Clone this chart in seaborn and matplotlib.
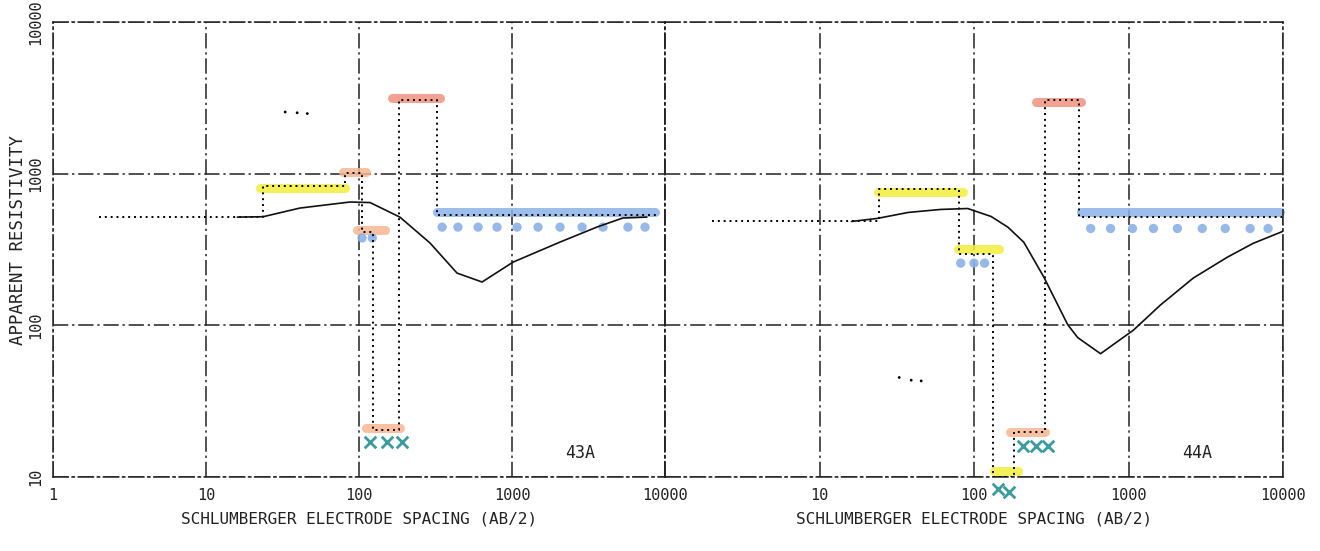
import matplotlib
matplotlib.use("Agg")
import matplotlib.pyplot as plt
import seaborn as sns

# --- sounding 43A ---
curve_43_x = [16, 23.6, 41, 87, 118, 185, 291, 437, 637, 1015, 2060, 3600, 5300, 7600]
curve_43_rho = [517, 520, 593, 650, 645, 517, 349, 221, 193, 261, 354, 445, 510, 517]
model_43_x = [2.0, 23.6, 81, 105, 123, 182, 323, 8870]
model_43_rho = [517, 828, 1009, 412, 20.4, 3055, 533, 533]
band_43_x0 = [22.4, 78.6, 97, 111, 165, 323]
band_43_x1 = [81, 111, 148, 185, 339, 8600]
band_43_rho = [800, 1024, 425, 21, 3150, 558]
band_43_kind = ["yellow", "orange", "orange", "orange", "red", "blue"]
blobs_43_x = [104.6, 122, 349, 443, 600, 798, 1079, 1479, 2060, 2869, 3933, 5723, 7400]
blobs_43_rho = [377, 377, 444, 444, 444, 444, 444, 444, 444, 444, 444, 444, 444]
cross_43_x = [118, 152, 190]
cross_43_rho = [17, 17, 17]
specks_43_x = [32.9, 39.4, 45.9]
specks_43_rho = [2550, 2520, 2490]

# --- sounding 44A ---
curve_44_x = [16.1, 23.7, 37.5, 61, 91, 129, 166, 210, 283, 404, 469, 659, 1076, 1607,
              2625, 4350, 6400, 10000]
curve_44_rho = [484, 507, 555, 581, 589, 522, 443, 353, 208, 101, 83, 65, 93, 136,
                205, 281, 347, 417]
model_44_x = [2.0, 24.4, 80, 133, 181, 287, 476, 9800]
model_44_rho = [484, 798, 294, 10, 19.7, 3055, 514, 514]
band_44_x0 = [24, 79, 134, 171, 250, 490]
band_44_x1 = [85, 145, 192, 290, 490, 9500]
band_44_rho = [762, 318, 11, 19.7, 2950, 555]
band_44_kind = ["yellow", "yellow", "yellow", "orange", "red", "blue"]
blobs_44_x = [82, 100, 117, 569, 765, 1061, 1449, 2071, 3000, 4225, 6124, 8000]
blobs_44_rho = [257, 257, 257, 435, 435, 435, 435, 435, 435, 435, 435, 435]
cross_44_x = [207, 251, 300, 142, 168]
cross_44_rho = [16, 16, 16, 8.3, 8.0]
specks_44_x = [32.8, 39.2, 45.5]
specks_44_rho = [45.3, 43.5, 43.0]

ticks = [1, 10, 100, 1000, 10000]
x_labels_43 = ["1", "10", "100", "1000", "10000"]
x_labels_44 = ["", "10", "100", "1000", "10000"]
y_labels = ["10", "100", "1000", "10000"]
y_ticks = [10, 100, 1000, 10000]

colors = {"yellow": "#f2ef3a", "orange": "#f6b792", "red": "#f0927f", "blue": "#8cb2e8"}
teal = "#3a9ca0"
ink = "#222222"
dashdot = (0, (10, 2.5, 1.5, 2.5))

sns.set_theme(style="white")
plt.rcParams["font.family"] = ["DejaVu Sans Mono"]

fig = plt.figure(figsize=(13.2, 5.51), dpi=100)
ax1 = fig.add_axes([0.0402, 0.1343, 0.4636, 0.8258])
ax2 = fig.add_axes([0.5038, 0.1343, 0.4682, 0.8258])


def draw_panel(ax, cx, cy, mx, my, bx0, bx1, by, bkind, blx, bly, crx, cry, spx, spy,
               xlabels, tag):
    ax.set_xscale("log")
    ax.set_yscale("log")
    ax.set_xlim(1, 10000)
    ax.set_ylim(10, 10000)

    # highlighter marks
    ax.hlines(by, bx0, bx1, colors=[colors[k] for k in bkind], linewidth=6.5,
              alpha=0.85, capstyle="round", zorder=1, clip_on=False)
    sns.scatterplot(x=blx, y=bly, ax=ax, color=colors["blue"], s=45, alpha=0.9,
                    edgecolor="none", zorder=1, clip_on=False)
    sns.scatterplot(x=crx, y=cry, ax=ax, color=teal, marker="x", s=70,
                    linewidth=2, zorder=2, clip_on=False)
    sns.scatterplot(x=spx, y=spy, ax=ax, color="black", s=4, edgecolor="none", zorder=2)

    # layered model and apparent resistivity curve
    sns.lineplot(x=mx, y=my, ax=ax, estimator=None, sort=False, drawstyle="steps-post",
                 color="black", linewidth=1.4, linestyle=(0, (1, 2)), zorder=3)
    sns.lineplot(x=cx, y=cy, ax=ax, estimator=None, sort=False, color="#111111",
                 linewidth=1.2, zorder=3)

    ax.set_xticks(ticks)
    ax.set_xticklabels(xlabels, fontsize=11, color=ink)
    ax.minorticks_off()
    ax.tick_params(length=0)
    ax.tick_params(axis="x", pad=8)
    ax.grid(True, color=ink, linestyle=dashdot, linewidth=1.1)
    for sp in ax.spines.values():
        sp.set_visible(True)
        sp.set_color(ink)
        sp.set_linewidth(1.1)
        sp.set_linestyle(dashdot)
    ax.set_xlabel("SCHLUMBERGER ELECTRODE SPACING (AB/2)", fontsize=11.5, labelpad=6,
                  color=ink)
    ax.text(2800, 14.3, tag, fontsize=12, ha="center", va="center", color=ink)


draw_panel(ax1, curve_43_x, curve_43_rho, model_43_x, model_43_rho,
           band_43_x0, band_43_x1, band_43_rho, band_43_kind,
           blobs_43_x, blobs_43_rho, cross_43_x, cross_43_rho,
           specks_43_x, specks_43_rho, x_labels_43, "43A")
draw_panel(ax2, curve_44_x, curve_44_rho, model_44_x, model_44_rho,
           band_44_x0, band_44_x1, band_44_rho, band_44_kind,
           blobs_44_x, blobs_44_rho, cross_44_x, cross_44_rho,
           specks_44_x, specks_44_rho, x_labels_44, "44A")

ax1.set_yticks(y_ticks)
ax1.set_yticklabels(y_labels, fontsize=11, rotation=90, va="center", color=ink)
ax1.tick_params(axis="y", pad=7)
ax1.set_ylabel("APPARENT RESISTIVITY", fontsize=12.5, color=ink)
ax1.yaxis.set_label_coords(-0.043, 0.52)
ax2.set_yticks(y_ticks)
ax2.set_yticklabels([])
ax2.set_ylabel("")

fig.savefig("out.png", dpi=100)
